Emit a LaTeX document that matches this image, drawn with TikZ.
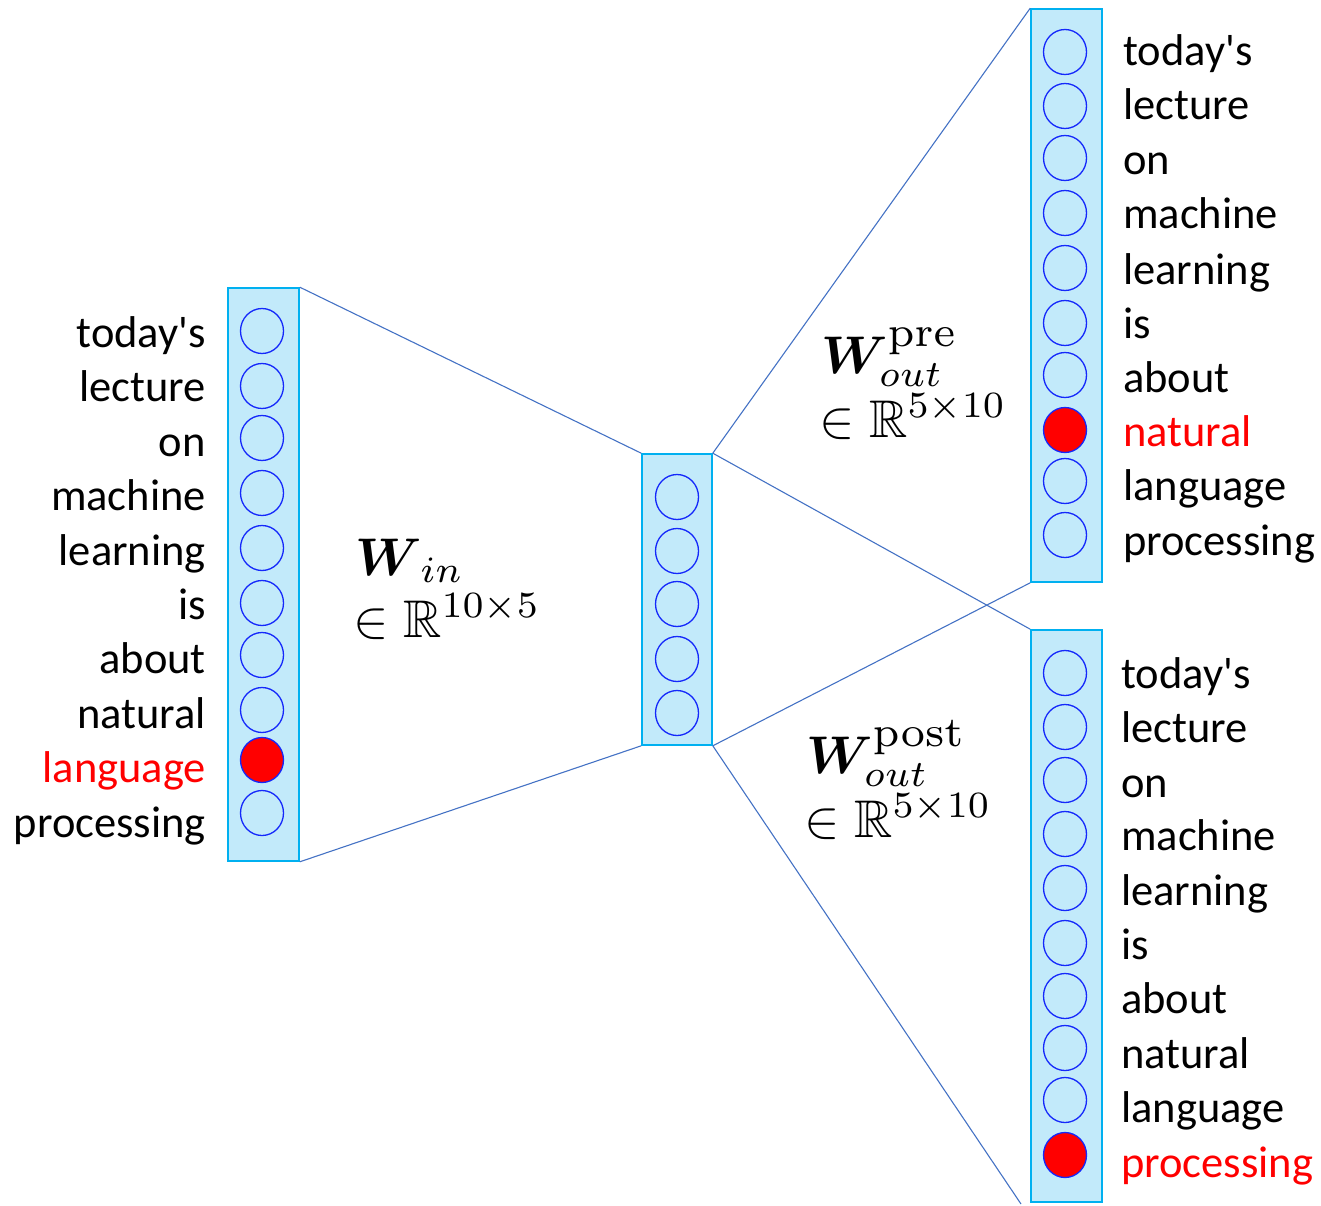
\documentclass[tikz,border=0pt]{standalone}
\usepackage{graphicx}
\usepackage{amsmath,amssymb,bm}
\usepackage[no-math]{fontspec}
\setmainfont{Carlito}[Ligatures=TeXOff]
\usetikzlibrary{shapes.geometric}
\definecolor{boxfill}{RGB}{194,234,250}
\definecolor{boxedge}{RGB}{0,176,240}
\definecolor{circedge}{RGB}{20,40,250}
\definecolor{linecol}{RGB}{68,114,196}
\definecolor{hot}{RGB}{255,0,0}
\newcommand{\bigmath}[1]{\scalebox{5.3}{$#1$}}
\newcommand{\suptag}[1]{\scalebox{1.15}{$\scriptstyle\mathrm{#1}$}}
\tikzset{
  vecbox/.style={draw=boxedge, fill=boxfill, line width=1.6pt, minimum width=71pt, inner sep=0pt},
  unit/.style={draw=circedge, fill=boxfill, line width=1.3pt, ellipse, minimum width=43pt, minimum height=45pt, inner sep=0pt},
  hotunit/.style={unit, fill=hot},
  wordR/.style={anchor=base west, inner sep=0pt, font=\fontsize{44.5}{53}\selectfont},
  wordL/.style={anchor=base east, inner sep=0pt, font=\fontsize{44.5}{53}\selectfont},
  mathlbl/.style={anchor=base west, inner sep=0pt},
  conn/.style={draw=linecol, line width=1.1pt}
}
\begin{document}
\begin{tikzpicture}[x=1pt,y=-1pt]
\useasboundingbox (0,0) rectangle (1321,1206);
% boxes
\node[vecbox, minimum height=573pt] (L) at (263.5,574.5) {};
\node[vecbox, minimum width=70pt, minimum height=291pt] (M) at (677,599.5) {};
\node[vecbox, minimum height=573pt] (T) at (1066.5,295.5) {};
\node[vecbox, minimum height=572pt] (B) at (1066.5,916) {};
\coordinate (tail) at (1021,1204);
% connectors
\draw[conn] (L.north east) -- (M.north west);
\draw[conn] (L.south east) -- (M.south west);
\draw[conn] (M.north east) -- (T.north west);
\draw[conn] (M.north east) -- (B.north west);
\draw[conn] (M.south east) -- (T.south west);
\draw[conn] (M.south east) -- (tail);
% left units
\foreach \y [count=\i] in {331,386,438,493,548,603,655,710,760,813}{
  \ifnum\i=9 \node[hotunit] (l\i) at (262,\y) {};
  \else \node[unit] (l\i) at (262,\y) {}; \fi
}
% middle units
\foreach \y [count=\i] in {497,551,604,659,713}{
  \node[unit] (m\i) at (677,\y) {};
}
% top units
\foreach \y [count=\i] in {52,106,158,213,268,323,375,430,481,535}{
  \ifnum\i=8 \node[hotunit] (t\i) at (1065,\y) {};
  \else \node[unit] (t\i) at (1065,\y) {}; \fi
}
% bottom units
\foreach \y [count=\i] in {673,727,780,834,888,943,996,1048,1100,1155}{
  \ifnum\i=10 \node[hotunit] (b\i) at (1065,\y) {};
  \else \node[unit] (b\i) at (1065,\y) {}; \fi
}
% left words
\node[wordL] (lw1) at (206,347) {today's};
\node[wordL] (lw2) at (206,401) {lecture};
\node[wordL] (lw3) at (206,456) {on};
\node[wordL] (lw4) at (206,510) {machine};
\node[wordL] (lw5) at (206,565) {learning};
\node[wordL] (lw6) at (206,619) {is};
\node[wordL] (lw7) at (206,673) {about};
\node[wordL] (lw8) at (206,728) {natural};
\node[wordL, text=hot] (lw9) at (206,782) {language};
\node[wordL] (lw10) at (206,837) {processing};
% top words
\node[wordR] (tw1) at (1123,66) {today's};
\node[wordR] (tw2) at (1123,120) {lecture};
\node[wordR] (tw3) at (1123,175) {on};
\node[wordR] (tw4) at (1123,229) {machine};
\node[wordR] (tw5) at (1123,284) {learning};
\node[wordR] (tw6) at (1123,338) {is};
\node[wordR] (tw7) at (1123,392) {about};
\node[wordR, text=hot] (tw8) at (1123,446) {natural};
\node[wordR] (tw9) at (1123,500) {language};
\node[wordR] (tw10) at (1123,555) {processing};
% bottom words
\node[wordR] (bw1) at (1121,688) {today's};
\node[wordR] (bw2) at (1121,742) {lecture};
\node[wordR] (bw3) at (1121,797) {on};
\node[wordR] (bw4) at (1121,850) {machine};
\node[wordR] (bw5) at (1121,905) {learning};
\node[wordR] (bw6) at (1121,959) {is};
\node[wordR] (bw7) at (1121,1013) {about};
\node[wordR] (bw8) at (1121,1068) {natural};
\node[wordR] (bw9) at (1121,1122) {language};
\node[wordR, text=hot] (bw10) at (1121,1177) {processing};
% math labels
\node[mathlbl] (win) at (355,575) {\bigmath{\bm{W}_{\,in}}};
\node[mathlbl] (winr) at (353,637) {\bigmath{\in\mathbb{R}^{10\times 5}}};
\node[mathlbl] (wpre) at (821,373) {\bigmath{\bm{W}^{\suptag{pre}}_{out}}};
\node[mathlbl] (wprer) at (819,437) {\bigmath{\in\mathbb{R}^{5\times 10}}};
\node[mathlbl] (wpost) at (806,773) {\bigmath{\bm{W}^{\suptag{post}}_{out}}};
\node[mathlbl] (wpostr) at (804,837) {\bigmath{\in\mathbb{R}^{5\times 10}}};
\end{tikzpicture}
\end{document}
